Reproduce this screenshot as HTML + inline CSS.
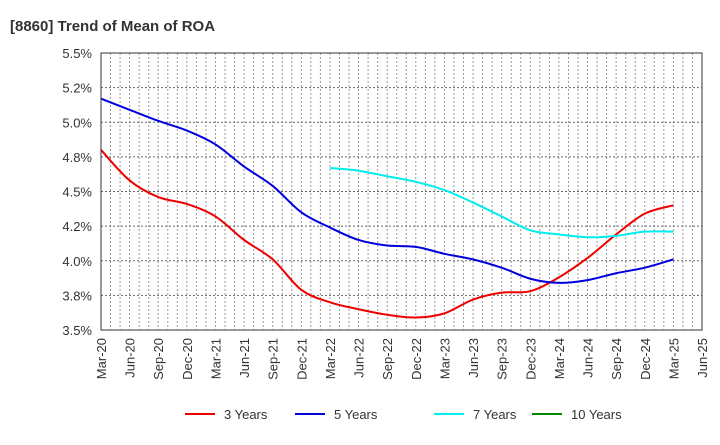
<!DOCTYPE html>
<html><head><meta charset="utf-8"><style>
body{margin:0;background:#fff;font-family:"Liberation Sans",sans-serif}
</style></head><body>
<svg id="chart" width="720" height="440" xmlns="http://www.w3.org/2000/svg" font-family="Liberation Sans, sans-serif">
<text x="10" y="31" font-size="15" font-weight="bold" fill="#333">[8860]  Trend of Mean of ROA</text>
<g id="grid"></g><g id="series"></g><g id="axes"></g><g id="legend"></g>
</svg>
<script>
const categories=["Mar-20","Jun-20","Sep-20","Dec-20","Mar-21","Jun-21","Sep-21","Dec-21","Mar-22","Jun-22","Sep-22","Dec-22","Mar-23","Jun-23","Sep-23","Dec-23","Mar-24","Jun-24","Sep-24","Dec-24","Mar-25","Jun-25"];
const yTicks=[3.5,3.75,4.0,4.25,4.5,4.75,5.0,5.25,5.5];
const yTickLabels=["3.5%","3.8%","4.0%","4.2%","4.5%","4.8%","5.0%","5.2%","5.5%"];
const s3=[4.80,4.58,4.46,4.41,4.32,4.15,4.01,3.79,3.70,3.65,3.61,3.59,3.62,3.72,3.77,3.78,3.88,4.02,4.19,4.34,4.40];
const s5=[5.17,5.09,5.01,4.94,4.84,4.68,4.54,4.35,4.24,4.15,4.11,4.10,4.05,4.01,3.95,3.87,3.84,3.86,3.91,3.95,4.01];
const s7=[null,null,null,null,null,null,null,null,4.67,4.65,4.61,4.57,4.51,4.42,4.32,4.22,4.19,4.17,4.18,4.21,4.21];
const s10=[];
const L=101,R=702,T=53,B=330,NS="http://www.w3.org/2000/svg";
const xs=i=>L+i*(R-L)/(categories.length-1);
const ys=v=>B-(v-3.5)/2*(B-T);
function mk(tag,attrs,parent){const e=document.createElementNS(NS,tag);for(const k in attrs)e.setAttribute(k,attrs[k]);parent.appendChild(e);return e;}
const grid=document.getElementById('grid'),axes=document.getElementById('axes'),ser=document.getElementById('series'),leg=document.getElementById('legend');
for(let m=1;m<(categories.length-1)*3;m++){const x=L+m*(R-L)/((categories.length-1)*3);
const g=mk('line',{x1:x,x2:x,y1:T,y2:B,stroke:'#999','stroke-dasharray':'2,2','stroke-width':1},grid);

}
yTicks.forEach((v,i)=>{const y=ys(v);
if(i>0&&i<yTicks.length-1){const g=mk('line',{x1:L,x2:R,y1:y,y2:y,stroke:'#666','stroke-dasharray':'2,2'},grid);

}
const t=mk('text',{x:L-9,y:y+5,'text-anchor':'end','font-size':13,fill:'#333'},axes);t.textContent=yTickLabels[i];

});
categories.forEach((c,i)=>{const x=xs(i);
const t=mk('text',{transform:`translate(${x+5},${B+8}) rotate(-90)`,'text-anchor':'end','font-size':13,fill:'#333'},axes);t.textContent=c;

});
const fr=mk('rect',{x:L,y:T,width:R-L,height:B-T,fill:'none',stroke:'#333','stroke-width':1},axes);


function path(arr){const p=[];arr.forEach((v,i)=>{if(v!=null)p.push([xs(i),ys(v)]);});if(!p.length)return '';
let d=`M${p[0][0]},${p[0][1]}`;for(let i=0;i<p.length-1;i++){const p0=p[i-1]||p[i],p1=p[i],p2=p[i+1],p3=p[i+2]||p2;
d+=` C${p1[0]+(p2[0]-p0[0])/6},${p1[1]+(p2[1]-p0[1])/6} ${p2[0]-(p3[0]-p1[0])/6},${p2[1]-(p3[1]-p1[1])/6} ${p2[0]},${p2[1]}`;}return d;}
const series=[[s3,'#ee0000','3 Years',185],[s5,'#0000dd','5 Years',295],[s7,'#00eeee','7 Years',434],[s10,'#008800','10 Years',532]];
series.forEach(([a,c,n,lx])=>{const d=path(a);if(d){const p=mk('path',{d:d,fill:'none',stroke:c,'stroke-width':2},ser);

}
const g=mk('g',{},leg);


mk('line',{x1:lx,x2:lx+30,y1:414,y2:414,stroke:c,'stroke-width':2},g);
const t=mk('text',{x:lx+39,y:419,'font-size':13,fill:'#333'},g);t.textContent=n;});
</script>
</body></html>
